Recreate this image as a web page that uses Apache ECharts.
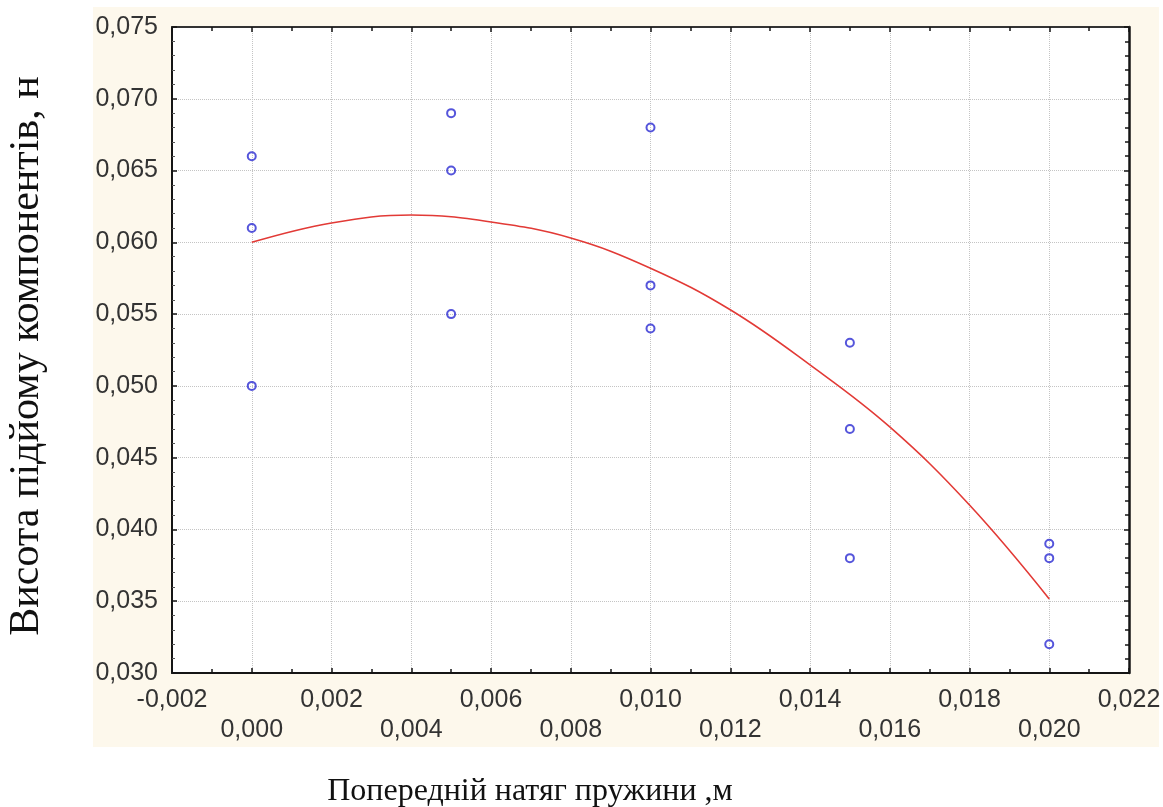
<!DOCTYPE html>
<html>
<head>
<meta charset="utf-8">
<script src="https://cdn.jsdelivr.net/npm/echarts@6/dist/echarts.min.js"></script>
<style>
html,body{margin:0;padding:0;background:#fff;}
#c{width:1163px;height:807px;}
</style>
</head>
<body>
<div id="c"></div>
<script>
// Observed points
const ptX = [0, 0, 0, 0.005, 0.005, 0.005, 0.010, 0.010, 0.010, 0.015, 0.015, 0.015, 0.020, 0.020, 0.020];
const ptY = [0.066, 0.061, 0.050, 0.069, 0.065, 0.055, 0.068, 0.057, 0.054, 0.053, 0.047, 0.038, 0.039, 0.038, 0.032];
// Fitted curve
const fitX = [0, 0.002, 0.004, 0.006, 0.008, 0.010, 0.012, 0.014, 0.016, 0.018, 0.020];
const fitY = [0.0600, 0.06135, 0.0619, 0.06142, 0.0603, 0.0582, 0.0553, 0.05146, 0.04714, 0.0417, 0.03516];
// Axis settings
const xMin = -0.002, xMax = 0.022, xStep = 0.002;
const yMin = 0.030, yMax = 0.075, yStep = 0.005;
const yTitle = 'Висота підйому компонентів, н';
const xTitle = 'Попередній натяг пружини ,м';

function fmt(v) {
  if (Math.abs(v) < 1e-9) v = 0;
  return v.toFixed(3).replace('.', ',');
}

const chart = echarts.init(document.getElementById('c'), null, {renderer: 'canvas'});
const labelFont = {fontFamily: 'Liberation Sans, Arial, sans-serif', fontSize: 25, color: '#333333'};
const lineCol = '#151515';

const option = {
  animation: false,
  backgroundColor: 'transparent',
  grid: {left: 172, top: 27, width: 957, height: 646, show: true, backgroundColor: '#ffffff', borderWidth: 0, containLabel: false, outerBoundsMode: 'none'},
  graphic: [
    {type: 'rect', z: -100, silent: true, shape: {x: 93, y: 7, width: 1066, height: 740}, style: {fill: '#fdf8ec'}},
    {type: 'text', silent: true, x: 27, y: 356, rotation: Math.PI / 2,
      style: {text: yTitle, font: '42px "Liberation Serif", "Times New Roman", serif', fill: '#111', textAlign: 'center', textVerticalAlign: 'middle'}},
    {type: 'text', silent: true, x: 530, y: 792,
      style: {text: xTitle, font: '32px "Liberation Serif", "Times New Roman", serif', fill: '#111', textAlign: 'center', textVerticalAlign: 'middle'}}
  ],
  xAxis: [
    {
      type: 'value', min: xMin, max: xMax, interval: xStep, position: 'bottom',
      axisLine: {show: true, onZero: false, lineStyle: {color: lineCol, width: 2}},
      axisTick: {show: true, inside: true, length: 5, lineStyle: {color: lineCol, width: 1.5}},
      minorTick: {show: true, splitNumber: 2, length: 4, lineStyle: {color: lineCol, width: 1.5}},
      splitLine: {show: true, lineStyle: {type: 'dotted', color: '#c4c4c4', width: 1}},
      axisLabel: Object.assign({
        show: true, margin: 12, interval: 0, lineHeight: 30, showMinLabel: true, showMaxLabel: true,
        formatter: function (v) {
          const k = Math.round(v * 1000);
          const t = fmt(v);
          return (((k % 4) + 4) % 4 === 0) ? '\n' + t : t;
        }
      }, labelFont)
    },
    {
      type: 'value', min: xMin, max: xMax, interval: xStep, position: 'top',
      axisLine: {show: true, onZero: false, lineStyle: {color: '#333', width: 2}},
      axisTick: {show: true, inside: true, length: 5, lineStyle: {color: lineCol, width: 1.5}},
      minorTick: {show: true, splitNumber: 2, length: 4, lineStyle: {color: lineCol, width: 1.5}},
      splitLine: {show: false},
      axisLabel: {show: false}
    }
  ],
  yAxis: [
    {
      type: 'value', min: yMin, max: yMax, interval: yStep, position: 'left',
      axisLine: {show: true, onZero: false, lineStyle: {color: lineCol, width: 2}},
      axisTick: {show: true, inside: true, length: 5, lineStyle: {color: lineCol, width: 1.5}},
      minorTick: {show: true, splitNumber: 5, length: 3, lineStyle: {color: '#555', width: 1}},
      splitLine: {show: true, lineStyle: {type: 'dotted', color: '#c4c4c4', width: 1}},
      axisLabel: Object.assign({show: true, margin: 14, showMinLabel: true, showMaxLabel: true, formatter: fmt}, labelFont)
    },
    {
      type: 'value', min: yMin, max: yMax, interval: yStep, position: 'right',
      axisLine: {show: true, onZero: false, lineStyle: {color: lineCol, width: 2.5}},
      axisTick: {show: true, inside: true, length: 5, lineStyle: {color: lineCol, width: 1.5}},
      minorTick: {show: true, splitNumber: 5, length: 4, lineStyle: {color: lineCol, width: 1.5}},
      splitLine: {show: false},
      axisLabel: {show: false}
    }
  ],
  series: [
    {
      type: 'line', xAxisIndex: 0, yAxisIndex: 0, smooth: 0.4, showSymbol: false, symbol: 'none',
      lineStyle: {color: '#e23a36', width: 1.6},
      data: fitX.map((x, i) => [x, fitY[i]]), z: 2
    },
    {
      type: 'scatter', xAxisIndex: 0, yAxisIndex: 0, symbol: 'circle', symbolSize: 8,
      itemStyle: {color: 'rgba(255,255,255,0)', borderColor: '#2a2ad2', borderWidth: 2},
      data: ptX.map((x, i) => [x, ptY[i]]), z: 3
    }
  ]
};
chart.setOption(option);
</script>
</body>
</html>
